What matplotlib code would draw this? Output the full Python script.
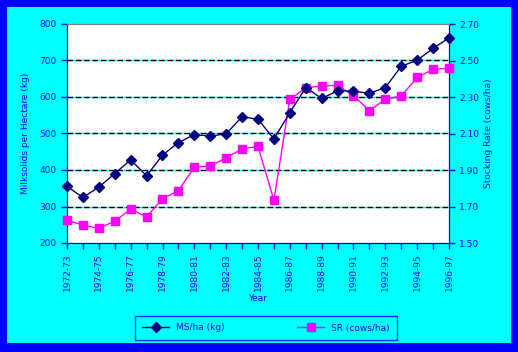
import matplotlib
matplotlib.use("Agg")
import matplotlib.pyplot as plt
from matplotlib.lines import Line2D
from matplotlib.patches import Rectangle

years = ["1972-73", "1973-74", "1974-75", "1975-76", "1976-77", "1977-78", "1978-79",
         "1979-80", "1980-81", "1981-82", "1982-83", "1983-84", "1984-85", "1985-86",
         "1986-87", "1987-88", "1988-89", "1989-90", "1990-91", "1991-92", "1992-93",
         "1993-94", "1994-95", "1995-96", "1996-97"]
ms_ha = [355, 325, 353, 390, 428, 384, 441, 475, 497, 493, 499, 546, 539, 485,
         557, 626, 596, 617, 616, 610, 626, 684, 701, 733, 762]
sr = [1.624, 1.599, 1.580, 1.620, 1.685, 1.643, 1.743, 1.787, 1.915, 1.922, 1.966,
      2.016, 2.029, 1.734, 2.288, 2.349, 2.361, 2.364, 2.307, 2.226, 2.287, 2.305,
      2.407, 2.451, 2.458]
left_ticks = [200, 300, 400, 500, 600, 700, 800]
right_ticks = [1.50, 1.70, 1.90, 2.10, 2.30, 2.50, 2.70]

BLUE = "#0000FF"
NAVY = "#000080"
MAG = "#FF00FF"
CYAN = "#00FFFF"
FS = 6.5

W, H = 518, 352
fig = plt.figure(figsize=(W / 100, H / 100), dpi=100)
fig.patch.set_facecolor(BLUE)
fig.patches.append(Rectangle((7 / W, 1 - 343 / H), (511 - 7) / W, (343 - 7) / H,
                             transform=fig.transFigure, facecolor=CYAN,
                             edgecolor="none", zorder=-5))

ax = fig.add_axes([67 / W, 1 - 243 / H, (449 - 67) / W, (243 - 24) / H])
ax.set_facecolor("white")
x = list(range(len(years)))
ax.set_xlim(0, len(years) - 1)
ax.set_ylim(200, 800)
ax.set_yticks(left_ticks)
ax.set_yticklabels([str(v) for v in left_ticks])
for v in left_ticks[1:-1]:
    ax.axhline(v, color=CYAN, lw=1.0, zorder=1)
    ax.axhline(v, color="black", lw=1.0, ls=(0, (4, 2)), zorder=1.5)

ax.set_xticks(x)
ax.set_xticklabels([y if i % 2 == 0 else "" for i, y in enumerate(years)],
                   rotation=90, fontsize=FS, color=BLUE)
ax.tick_params(axis="both", direction="out", length=4, color=BLUE, width=1,
               labelcolor=BLUE, labelsize=FS)
for s in ["left", "bottom", "right"]:
    ax.spines[s].set_color(BLUE)
ax.spines["top"].set_color("#808080")
ax.set_ylabel("Milksolids per Hectare (kg)", color=BLUE, fontsize=FS, labelpad=7)
ax.set_xlabel("Year", color=BLUE, fontsize=FS, labelpad=2)

ax2 = ax.twinx()
ax2.set_ylim(1.50, 2.70)
ax2.set_yticks(right_ticks)
ax2.set_yticklabels([f"{v:.2f}" for v in right_ticks])
ax2.tick_params(axis="y", direction="out", length=4, color=BLUE, width=1,
                labelcolor=BLUE, labelsize=FS)
for s in ["left", "bottom", "right"]:
    ax2.spines[s].set_color(BLUE)
ax2.spines["top"].set_color("#808080")
ax2.set_ylabel("Stocking Rate (cows/ha)", color=BLUE, fontsize=FS, labelpad=3)

ax2.plot(x, sr, color=MAG, lw=1, marker="s", ms=5.5, mfc=MAG, mec=MAG,
         clip_on=False, zorder=3)
ax3 = ax.twinx()
ax3.set_ylim(200, 800)
ax3.axis("off")
ax3.plot(x, ms_ha, color=NAVY, lw=1, marker="D", ms=5, mfc=NAVY, mec=NAVY,
         clip_on=False, zorder=4)

handles = [Line2D([], [], color=NAVY, lw=1, marker="D", ms=5, mfc=NAVY, mec=NAVY),
           Line2D([], [], color=MAG, lw=1, marker="s", ms=5.5, mfc=MAG, mec=MAG)]
leg = fig.legend(handles, ["MS/ha (kg)", "SR (cows/ha)"], ncol=2,
                 loc="center", bbox_to_anchor=((138 + 394) / 2 / W, 1 - 328 / H),
                 fontsize=FS, frameon=True, fancybox=False, columnspacing=8,
                 handlelength=3, borderpad=0.8)
leg.get_frame().set_facecolor(CYAN)
leg.get_frame().set_edgecolor(BLUE)
leg.get_frame().set_linewidth(1)
for t in leg.get_texts():
    t.set_color(BLUE)

fig.savefig("out.png", dpi=100, facecolor=fig.get_facecolor())
